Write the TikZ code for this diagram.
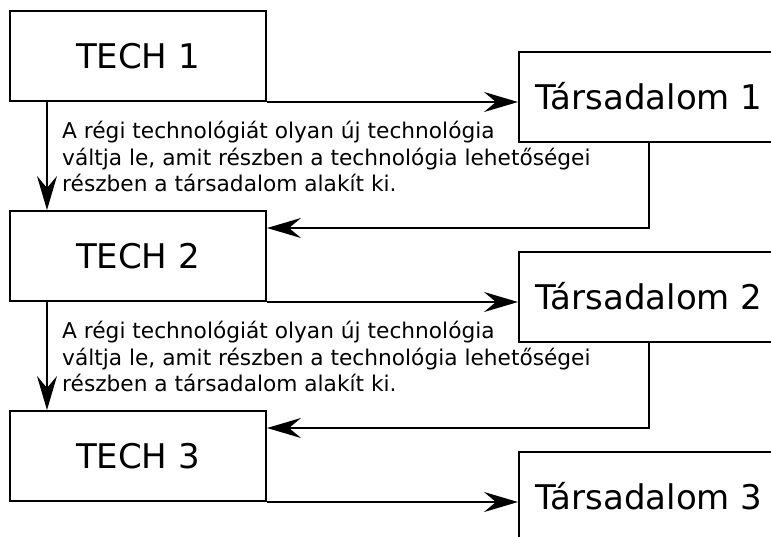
\documentclass[tikz,border=0pt]{standalone}
\usepackage{fontspec}
\setmainfont{DejaVu Sans}
\usetikzlibrary{arrows.meta}
\tikzset{
  doboz/.style={draw, line width=2pt, minimum width=256pt, minimum height=90pt,
    inner sep=0pt, font=\fontsize{34}{40}\selectfont},
  nyil/.style={line width=2pt, -{Stealth[length=34pt,width=20pt,inset=12pt]}},
  magyarazat/.style={align=left, anchor=north west, inner sep=0pt,
    font=\fontsize{21.7}{26.5}\selectfont},
}
\begin{document}
\begin{tikzpicture}[x=1pt,y=-1pt]
  \clip (0,0) rectangle (771,536);
  \foreach \i/\y in {1/0,2/200,3/400}{
    \node[doboz] (tech\i) at (138,56+\y) {TECH \i};
    \node[doboz, minimum width=260pt] (tars\i) at (649,96.5+\y) {Társadalom \i};
    \draw[nyil] (tech\i.south east) -- (tech\i.south east -| tars\i.west);
  }
  \foreach \i/\j/\y in {1/2/0,2/3/200}{
    \draw[nyil] ([xshift=38pt]tech\i.south west) -- ([xshift=38pt]tech\j.north west);
    \draw[nyil] (tars\i.south) |- ([yshift=-18pt]tech\j.north east);
    \node[magyarazat] (szoveg\i) at (62,121+\y) {A régi technológiát olyan új technológia\\
      váltja le, amit részben a technológia lehetőségei\\
      részben a társadalom alakít ki.};
  }
\end{tikzpicture}
\end{document}
